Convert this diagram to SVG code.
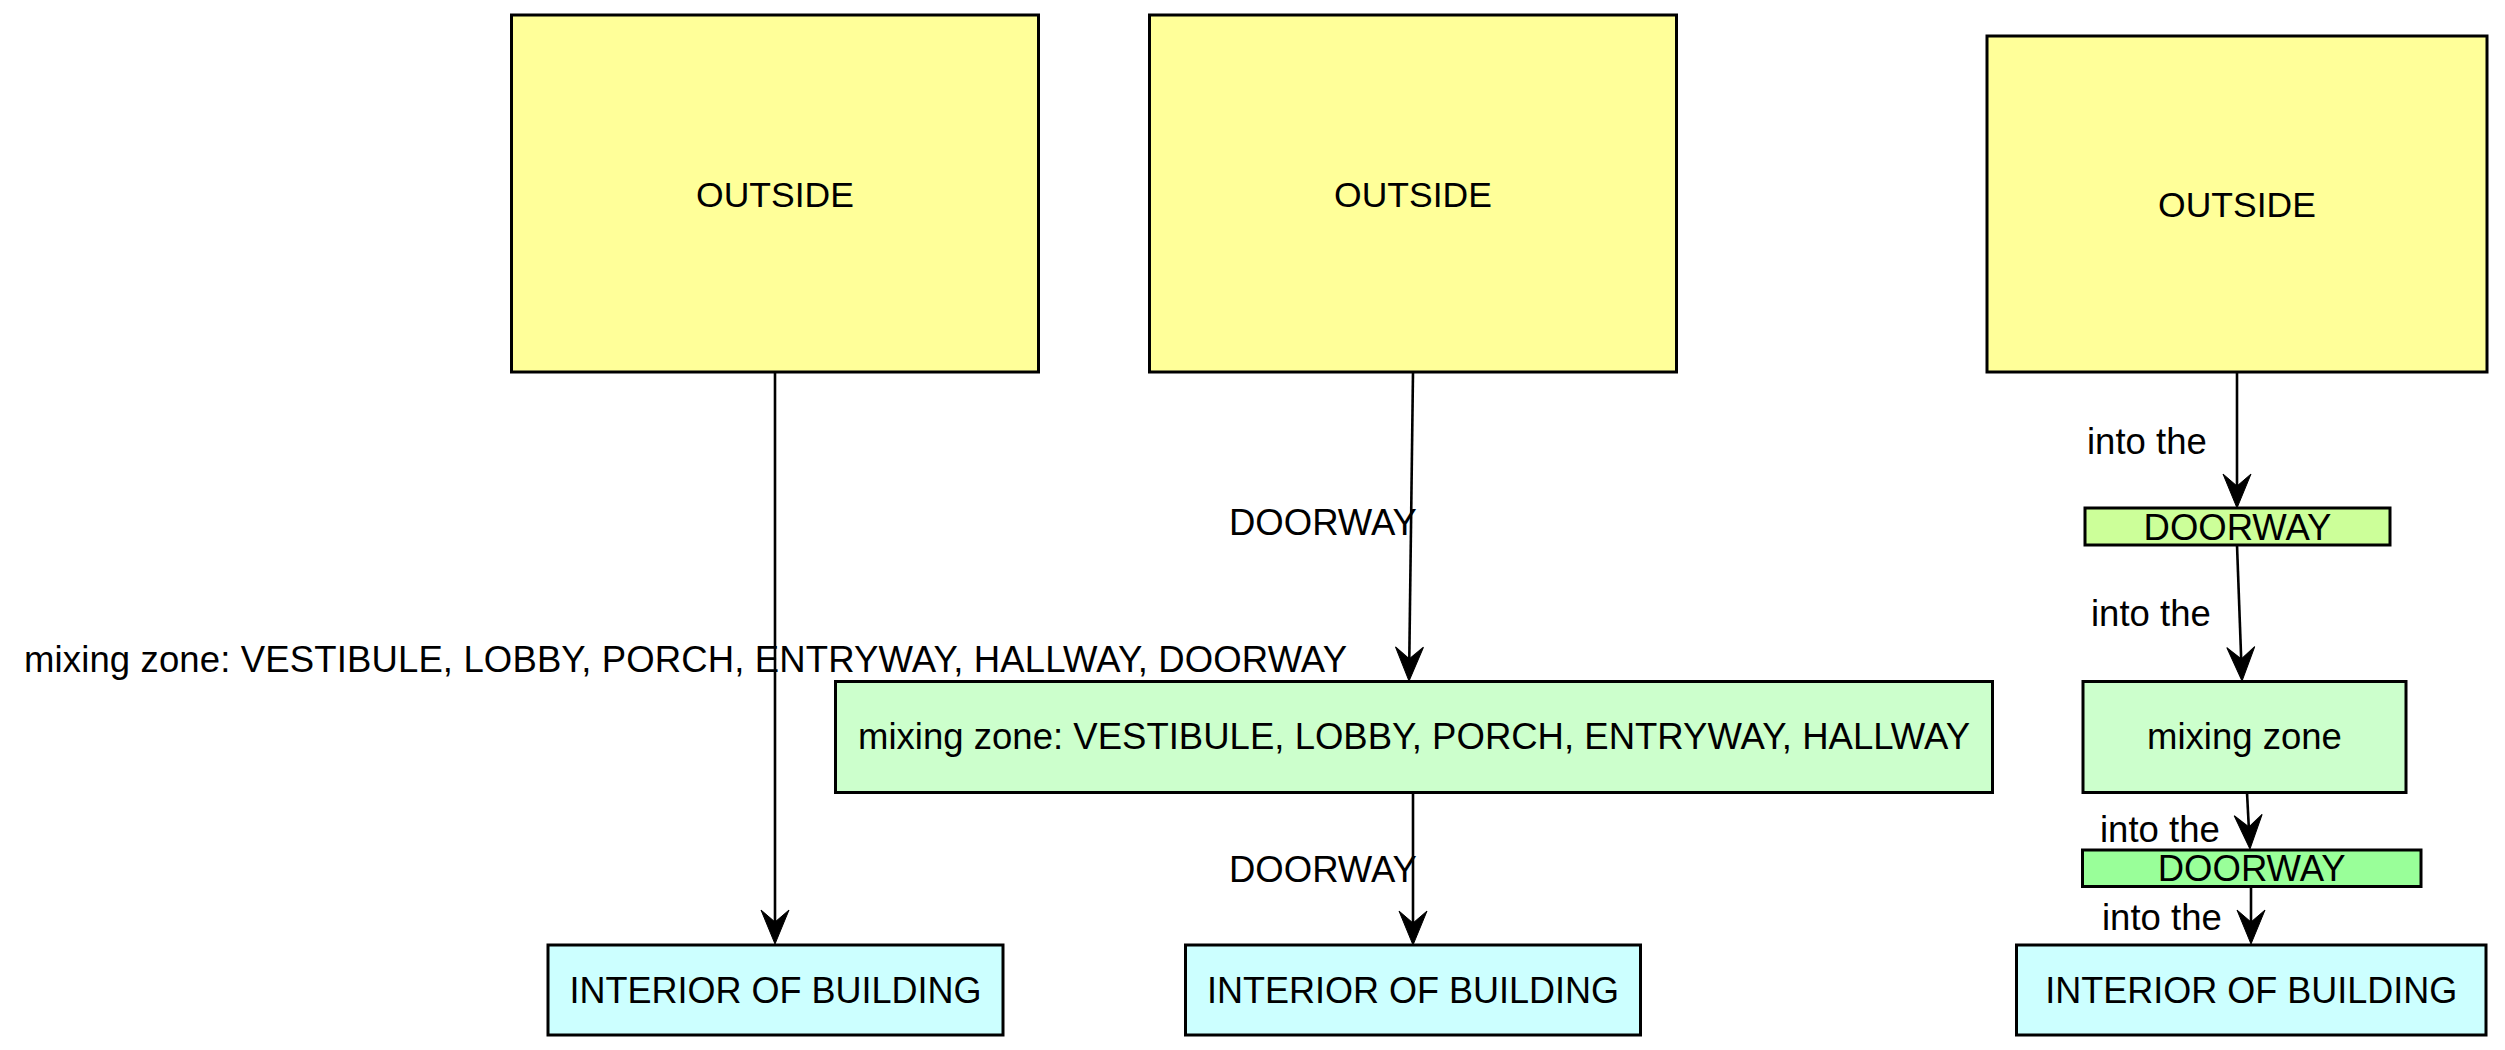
<svg xmlns="http://www.w3.org/2000/svg" width="2505" height="1050" viewBox="0 0 2505 1050">
<style>
  .node rect { stroke: #000; stroke-width: 3; }
  .outside { fill: #ffff99; }
  .mix { fill: #ccffcc; }
  .door1 { fill: #ccff99; }
  .door2 { fill: #99ff99; }
  .interior { fill: #ccffff; }
  text { font-family: "Liberation Sans", Arial, sans-serif; font-size: 36.5px; fill: #000; }
  .o { font-size: 35.5px; }
  .i { font-size: 36px; }
  .c { text-anchor: middle; }
  .edge { fill: none; stroke: #000; stroke-width: 2.6; marker-end: url(#vee); }
</style>
<defs>
  <marker id="vee" markerUnits="userSpaceOnUse" markerWidth="60" markerHeight="40" refX="0" refY="0" orient="auto" overflow="visible">
    <path d="M22,0 L-12,-14 L0,0 L-12,14 Z" fill="#000" stroke="#000" stroke-width="1"/>
  </marker>
</defs>
<rect width="2505" height="1050" fill="#fff"/>

<g id="outside1" class="node"><rect class="outside" x="511.5" y="15" width="527" height="357"/><text class="c o" x="775" y="207">OUTSIDE</text></g>
<g id="outside2" class="node"><rect class="outside" x="1149.5" y="15" width="527" height="357"/><text class="c o" x="1413" y="207">OUTSIDE</text></g>
<g id="outside3" class="node"><rect class="outside" x="1987" y="36" width="500" height="336"/><text class="c o" x="2237" y="217">OUTSIDE</text></g>

<g id="mixing1" class="node"><rect class="mix" x="835.5" y="681.5" width="1157" height="111"/><text class="c" x="1414" y="749" textLength="1112" lengthAdjust="spacing">mixing zone: VESTIBULE, LOBBY, PORCH, ENTRYWAY, HALLWAY</text></g>
<g id="doorway1" class="node"><rect class="door1" x="2085" y="508" width="305" height="37"/><text class="c" x="2237.5" y="539.5">DOORWAY</text></g>
<g id="mixing2" class="node"><rect class="mix" x="2083" y="681.5" width="323" height="111"/><text class="c" x="2244.5" y="749">mixing zone</text></g>
<g id="doorway2" class="node"><rect class="door2" x="2082.5" y="850" width="338.5" height="36.5"/><text class="c" x="2251.7" y="881">DOORWAY</text></g>

<g id="interior1" class="node"><rect class="interior" x="548" y="945" width="455" height="90"/><text class="c i" x="775.5" y="1003">INTERIOR OF BUILDING</text></g>
<g id="interior2" class="node"><rect class="interior" x="1185.5" y="945" width="455" height="90"/><text class="c i" x="1413" y="1003">INTERIOR OF BUILDING</text></g>
<g id="interior3" class="node"><rect class="interior" x="2016.5" y="945" width="469.5" height="90"/><text class="c i" x="2251.2" y="1003">INTERIOR OF BUILDING</text></g>

<g id="connectors">
  <path class="edge" d="M775,372 L775,922"/>
  <text x="24" y="672" textLength="1323" lengthAdjust="spacing">mixing zone: VESTIBULE, LOBBY, PORCH, ENTRYWAY, HALLWAY, DOORWAY</text>

  <path class="edge" d="M1413,372 L1409.3,659"/>
  <text x="1229" y="535">DOORWAY</text>
  <path class="edge" d="M1413,792.5 L1413,923"/>
  <text x="1229" y="882">DOORWAY</text>

  <path class="edge" d="M2237,372 L2237,486"/>
  <text x="2087" y="454">into the</text>
  <path class="edge" d="M2237,545 L2241.2,659"/>
  <text x="2091" y="626">into the</text>
  <path class="edge" d="M2247,792.5 L2248.8,827"/>
  <text x="2100" y="842">into the</text>
  <path class="edge" d="M2251,886.5 L2251,922"/>
  <text x="2102" y="930">into the</text>
</g>
</svg>
